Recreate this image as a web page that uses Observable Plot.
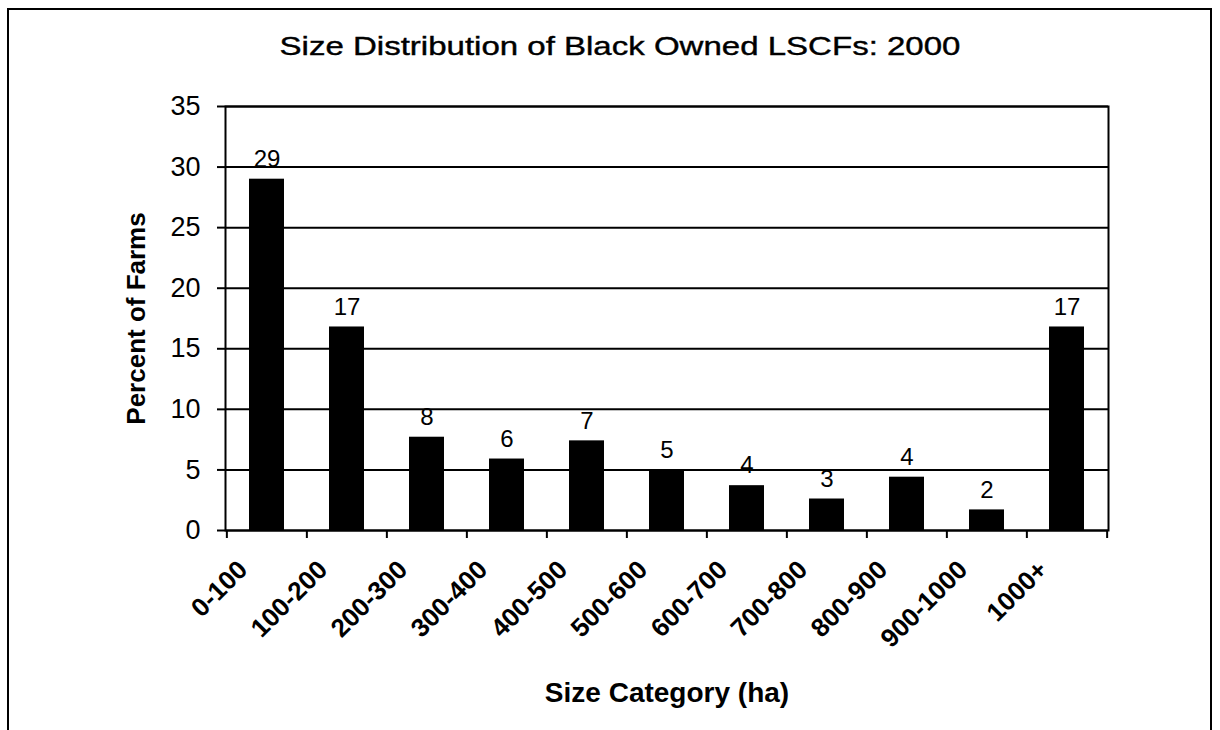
<!DOCTYPE html>
<html>
<head>
<meta charset="utf-8">
<script src="https://cdn.jsdelivr.net/npm/d3@7"></script>
<script src="https://cdn.jsdelivr.net/npm/@observablehq/plot@0.6"></script>
<style>
  body { margin: 0; background: #fff; }
  #wrap { position: relative; width: 1220px; height: 730px; overflow: hidden; font-family: "Liberation Sans", Arial, sans-serif; color: #000; }
  #border { position: absolute; left: 7px; top: 8px; width: 1205px; height: 760px; border: 2px solid #000; box-sizing: border-box; }
  #title { position: absolute; left: 620px; top: 33px; font-size: 26px; line-height: 26px; white-space: nowrap; transform: translateX(-50%) scaleX(1.27); -webkit-text-stroke: 0.4px #000; }
  #chart { position: absolute; left: 0; top: 0; }
</style>
</head>
<body>
<div id="wrap">
  <div id="border"></div>
  <div id="title">Size Distribution of Black Owned LSCFs: 2000</div>
  <div id="chart"></div>
</div>
<script>
const categories = ["0-100", "100-200", "200-300", "300-400", "400-500", "500-600", "600-700", "700-800", "800-900", "900-1000", "1000+"];
const percents = [29, 16.8, 7.7, 5.9, 7.4, 5.0, 3.7, 2.6, 4.4, 1.7, 16.8];
const valueLabels = ["29", "17", "8", "6", "7", "5", "4", "3", "4", "2", "17"];
const yTicks = [0, 5, 10, 15, 20, 25, 30, 35];
const yLabel = "Percent of Farms";
const xLabel = "Size Category (ha)";

const data = categories.map((c, i) => ({category: c, percent: percents[i], label: valueLabels[i]}));

const W = 1220, H = 730, mL = 225, mR = 112, mT = 106, mB = 200;
const step = (W - mL - mR) / categories.length;

const chart = Plot.plot({
  width: W,
  height: H,
  marginTop: mT,
  marginBottom: mB,
  marginLeft: mL,
  marginRight: mR,
  style: {fontFamily: "'Liberation Sans', Arial, sans-serif", background: "transparent", color: "#000", overflow: "visible"},
  x: {domain: categories, paddingInner: 0.56, paddingOuter: 0.28, axis: null},
  y: {domain: [0, 35], axis: null},
  marks: [
    Plot.ruleY(yTicks, {stroke: "#000", strokeWidth: 2}),
    Plot.barY(data, {x: "category", y: "percent", fill: "#000"}),
    Plot.frame({stroke: "#000", strokeWidth: 2}),
    Plot.axisY({ticks: yTicks, tickSize: 8, tickPadding: 17, fontSize: 27, label: null, strokeWidth: 2, tickFormat: d => String(d)}),
    Plot.axisX({ticks: categories, tickSize: 8, tickFormat: () => "", label: null, dx: -step / 2, strokeWidth: 2}),
    Plot.axisX({ticks: [categories[categories.length - 1]], tickSize: 8, tickFormat: () => "", label: null, dx: step / 2, strokeWidth: 2}),
    Plot.text(categories, {x: d => d, frameAnchor: "bottom", text: d => d, rotate: -45, textAnchor: "end", lineAnchor: "middle", dx: -24, dy: 35, fontSize: 26, fontWeight: "bold"}),
    Plot.text(data, {x: "category", y: "percent", text: "label", dy: -20, lineAnchor: "middle", fontSize: 24}),
    Plot.text([yLabel], {frameAnchor: "left", text: d => d, rotate: -90, textAnchor: "middle", lineAnchor: "middle", dx: -89, fontSize: 26, fontWeight: "bold"}),
    Plot.text([xLabel], {frameAnchor: "bottom", text: d => d, textAnchor: "middle", lineAnchor: "middle", dy: 163, fontSize: 28, fontWeight: "bold"})
  ]
});
document.getElementById("chart").appendChild(chart);
</script>
</body>
</html>
